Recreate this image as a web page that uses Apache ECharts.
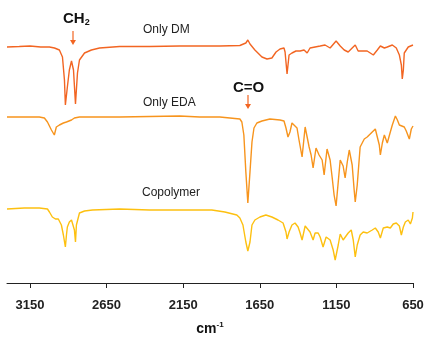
<!DOCTYPE html>
<html>
<head>
<meta charset="utf-8">
<script src="https://cdn.jsdelivr.net/npm/echarts@6/dist/echarts.min.js"></script>
<style>
    html, body { margin: 0; padding: 0; background: #fff; }
    #chart { width: 425px; height: 337px; }
</style>
</head>
<body>
<div id="chart"></div>
<script>
// wavenumber ticks (cm-1), axis runs high -> low
var tickValues = [3150, 2650, 2150, 1650, 1150, 650];

// spectra as [wavenumber, offset intensity]
var onlyDM = [
    [3300, 236], [3220, 236.5], [3150, 237], [3080, 236], [3023, 236], [2990, 235],
    [2958, 233], [2938, 226], [2925, 203], [2919, 178], [2906, 196], [2893, 213],
    [2879, 222], [2866, 213], [2853, 179], [2840, 210], [2827, 223], [2794, 230],
    [2749, 233], [2696, 235], [2565, 236.5], [2370, 236.5], [2173, 237], [1911, 237],
    [1780, 237.5], [1741, 240], [1728, 243], [1714, 239], [1682, 233], [1636, 226],
    [1603, 224], [1571, 225], [1544, 231], [1518, 234], [1492, 235], [1485, 231],
    [1472, 209], [1459, 228], [1440, 230], [1414, 232], [1387, 232], [1361, 233],
    [1341, 230], [1322, 235], [1289, 236], [1256, 237], [1224, 238], [1191, 235],
    [1152, 242], [1125, 237], [1099, 233], [1073, 231], [1047, 235], [1027, 238],
    [1008, 232], [981, 232], [949, 232], [929, 230], [909, 228], [883, 233],
    [863, 237], [837, 235], [818, 236], [785, 238], [759, 235], [739, 228],
    [726, 218], [720, 204], [713, 213], [707, 230], [681, 236], [650, 238]
];

var onlyEDA = [
    [3300, 166], [3220, 166], [3089, 166], [3056, 165], [3036, 161], [3010, 153],
    [2991, 148], [2978, 156], [2965, 154], [2958, 158], [2945, 156], [2932, 160],
    [2919, 159], [2912, 161], [2899, 160], [2879, 163], [2860, 165], [2827, 166],
    [2565, 166], [2370, 166.5], [2173, 167], [2042, 166], [1911, 166], [1845, 165],
    [1780, 164], [1767, 161], [1754, 148], [1741, 111], [1728, 80], [1714, 111],
    [1701, 141], [1688, 155], [1669, 160], [1636, 162], [1584, 164], [1518, 163],
    [1492, 162], [1479, 155], [1466, 146], [1453, 151], [1440, 160], [1427, 159],
    [1407, 155], [1394, 143], [1374, 126], [1354, 156], [1341, 146], [1328, 136],
    [1315, 128], [1302, 115], [1283, 135], [1263, 128], [1250, 130], [1243, 123],
    [1230, 108], [1211, 134], [1191, 123], [1178, 106], [1165, 88], [1152, 77],
    [1138, 101], [1125, 123], [1106, 117], [1093, 105], [1079, 121], [1066, 133],
    [1047, 118], [1034, 93], [1027, 81], [1014, 98], [995, 136], [968, 144],
    [949, 146], [916, 151], [896, 154], [883, 153], [870, 138], [863, 128],
    [850, 140], [837, 148], [818, 140], [798, 151], [785, 158], [765, 167],
    [752, 163], [739, 158], [726, 159], [707, 156], [694, 152], [674, 144],
    [661, 154], [650, 157]
];

var copolymer = [
    [3300, 74], [3187, 75], [3089, 75], [3036, 74], [3023, 71], [3004, 66],
    [2984, 64], [2965, 64], [2945, 58], [2932, 48], [2919, 36], [2912, 48],
    [2906, 56], [2893, 61], [2879, 63], [2866, 61], [2860, 53], [2853, 41],
    [2847, 58], [2827, 70], [2794, 72], [2742, 73], [2565, 74], [2370, 73],
    [2173, 73], [1963, 73], [1878, 71], [1800, 68], [1780, 65], [1760, 58],
    [1741, 41], [1728, 32], [1714, 41], [1701, 58], [1682, 63], [1649, 66],
    [1610, 68], [1571, 66], [1531, 63], [1498, 60], [1479, 51], [1472, 44],
    [1459, 51], [1440, 58], [1420, 60], [1400, 56], [1387, 50], [1374, 43],
    [1354, 57], [1341, 55], [1322, 51], [1302, 43], [1289, 50], [1269, 50],
    [1256, 46], [1237, 36], [1217, 46], [1191, 43], [1171, 33], [1158, 23],
    [1138, 38], [1125, 49], [1106, 43], [1093, 41], [1073, 50], [1053, 53],
    [1040, 43], [1027, 26], [1014, 38], [995, 48], [975, 51], [949, 50],
    [916, 53], [896, 55], [877, 51], [863, 45], [844, 55], [818, 56],
    [798, 55], [779, 59], [759, 60], [739, 57], [726, 48], [713, 56],
    [700, 61], [681, 63], [667, 59], [654, 65], [650, 71]
];

var seriesNames = ['Only DM', 'Only EDA', 'Copolymer'];
var seriesColors = ['#f26522', '#f7941d', '#fdc010'];

var chart = echarts.init(document.getElementById('chart'));

function arrow(x, y1, y2, color) {
    return [
        { type: 'line', shape: { x1: x, y1: y1, x2: x, y2: y2 - 3 }, style: { stroke: color, lineWidth: 1.2 } },
        { type: 'polygon', shape: { points: [[x - 3, y2 - 5], [x + 3, y2 - 5], [x, y2]] }, style: { fill: color } }
    ];
}

var font = 'Arial, "Liberation Sans", sans-serif';

var option = {
    animation: false,
    grid: { left: 7, right: 12, top: 0, bottom: 54, containLabel: false, outerBoundsMode: 'none' },
    xAxis: {
        type: 'value',
        inverse: true,
        min: 650,
        max: 3300,
        name: '{b|cm}{s|-1}',
        nameLocation: 'middle',
        nameGap: 38,
        nameTextStyle: {
            rich: {
                b: { fontFamily: font, fontWeight: 'bold', fontSize: 14, color: '#111' },
                s: { fontFamily: font, fontWeight: 'bold', fontSize: 8, color: '#111', verticalAlign: 'top', padding: [0, 0, 8, 0] }
            }
        },
        axisLine: { lineStyle: { color: '#222', width: 1 } },
        axisTick: { show: true, inside: false, length: 5, customValues: tickValues, lineStyle: { color: '#222' } },
        axisLabel: {
            customValues: tickValues,
            margin: 16,
            fontFamily: font,
            fontWeight: 'bold',
            fontSize: 13,
            color: '#222',
            formatter: function(v) { return String(v); }
        },
        splitLine: { show: false }
    },
    yAxis: { type: 'value', min: 0, max: 283, show: false },
    series: [onlyDM, onlyEDA, copolymer].map(function(d, i) {
        return {
            name: seriesNames[i],
            type: 'line',
            data: d,
            showSymbol: false,
            lineStyle: { color: seriesColors[i], width: 1.4 },
            z: 3 - i
        };
    }),
    graphic: [
        { type: 'text', x: 143, y: 24, style: { text: 'Only DM', fontFamily: font, fontSize: 12, fill: '#222' } },
        { type: 'text', x: 143, y: 97, style: { text: 'Only EDA', fontFamily: font, fontSize: 12, fill: '#222' } },
        { type: 'text', x: 142, y: 187, style: { text: 'Copolymer', fontFamily: font, fontSize: 12, fill: '#222' } },
        { type: 'text', x: 63, y: 11, style: { text: '{b|CH}{s|2}', rich: {
            b: { fontFamily: font, fontWeight: 'bold', fontSize: 15, fill: '#111' },
            s: { fontFamily: font, fontWeight: 'bold', fontSize: 9, fill: '#111', verticalAlign: 'bottom', padding: [7, 0, 0, 0] }
        } } },
        { type: 'text', x: 233, y: 80, style: { text: 'C=O', fontFamily: font, fontWeight: 'bold', fontSize: 15, fill: '#111' } }
    ].concat(arrow(73, 31, 45, '#f26522'), arrow(248, 95, 109, '#f26522'))
};

chart.setOption(option);
</script>
</body>
</html>
